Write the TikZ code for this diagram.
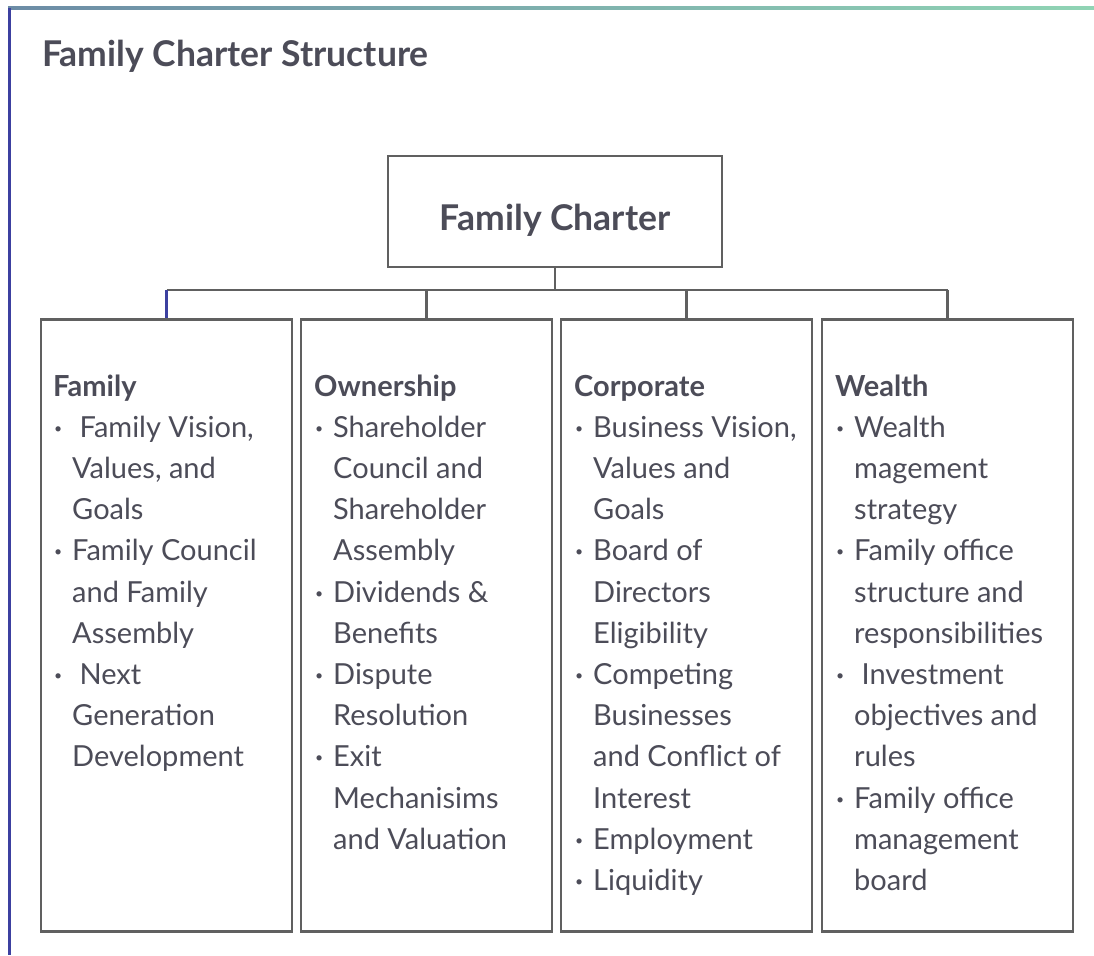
\documentclass[tikz,border=0pt]{standalone}
\usepackage{fontspec}
\setmainfont{Lato}
\definecolor{txt}{HTML}{4C4C58}
\definecolor{boxc}{HTML}{606060}
\definecolor{blueline}{HTML}{3C40A0}
\definecolor{topl}{HTML}{6C8CA6}
\definecolor{topr}{HTML}{90D4B4}
\newcommand{\bl}{\makebox[19pt][l]{\hspace{1pt}\raisebox{4pt}{\fontsize{14}{14}\selectfont\textbullet}}}
\newcommand{\ind}{\hspace*{19pt}}
\tikzset{
  pillar/.style={draw=boxc,line width=2.6pt,minimum width=251pt,minimum height=612pt,anchor=north,inner sep=0pt},
  conn/.style={draw=boxc,line width=2.6pt},
  ln/.style={anchor=base west,inner sep=0pt,text=txt,font=\fontsize{29}{29}\selectfont}
}
\begin{document}
\begin{tikzpicture}[x=1pt,y=-1pt]
\useasboundingbox (0,0) rectangle (1094,955);
% frame
\shade[left color=topl,right color=topr] (8,6.5) rectangle (1094,9.5);
\fill[blueline] (7.5,8) rectangle (10.5,955);
\node[anchor=base west,inner sep=0pt,text=txt,font=\bfseries\fontsize{35.5}{35.5}\selectfont] (title) at (42,67) {Family Charter Structure};
%%%%
\node[draw=boxc,line width=2.6pt,minimum width=334pt,minimum height=111pt,inner sep=0pt] (charter) at (555,211.5) {};
\node[anchor=base,inner sep=0pt,text=txt,font=\bfseries\fontsize{35.5}{35.5}\selectfont] (chartertext) at (555,230) {Family Charter};
\node[pillar] (family) at (166.5,318) {};
\node[pillar] (owner) at (426.5,318) {};
\node[pillar] (corp) at (686.5,318) {};
\node[pillar] (wealth) at (947.5,318) {};
\coordinate (bar) at (555,290);
\draw[conn] (charter.south) -- (bar);
\draw[conn] (family.north |- bar) -- (wealth.north |- bar);
\foreach \b in {owner,corp,wealth}
\draw[conn] (\b.north) -- (\b.north |- bar);
\draw[conn,draw=blueline] (family.north) -- (family.north |- bar);
%%%%
\foreach \t [count=\i] in {\textbf{Family},{\bl\ Family Vision,},{\ind Values, and},\ind Goals,
  \bl Family Council,\ind and Family,\ind Assembly,\bl\ Next,\ind Generation,\ind Development}
\node[ln] (fam\i) at (53,{396+41.2*(\i-1)}) {\t};
\foreach \t [count=\i] in {\textbf{Ownership},\bl Shareholder,\ind Council and,\ind Shareholder,
  \ind Assembly,\bl Dividends \&,\ind Benefits,\bl Dispute,\ind Resolution,\bl Exit,
  \ind Mechanisims,\ind and Valuation}
\node[ln] (own\i) at (314,{396+41.2*(\i-1)}) {\t};
\foreach \t [count=\i] in {\textbf{Corporate},{\bl Business Vision,},\ind Values and,\ind Goals,
  \bl Board of,\ind Directors,\ind Eligibility,\bl Competing,\ind Businesses,
  \ind and Conflict of,\ind Interest,\bl Employment,\bl Liquidity}
\node[ln] (cor\i) at (574,{396+41.2*(\i-1)}) {\t};
\foreach \t [count=\i] in {\textbf{Wealth},\bl Wealth,\ind magement,\ind strategy,
  \bl Family office,\ind structure and,\ind responsibilities,\bl\ Investment,
  \ind objectives and,\ind rules,\bl Family office,\ind management,\ind board}
\node[ln] (wea\i) at (835,{396+41.2*(\i-1)}) {\t};
\end{tikzpicture}
\end{document}
